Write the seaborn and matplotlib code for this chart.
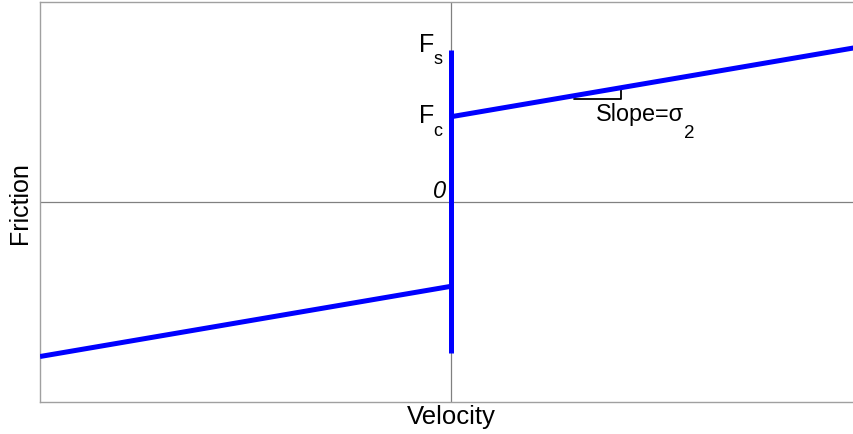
import numpy as np
import pandas as pd
import matplotlib
matplotlib.use("Agg")
import matplotlib.pyplot as plt
import seaborn as sns

# Friction model parameters (normalised units)
F_s = 0.76        # static friction level
F_c = 0.425       # Coulomb friction level
sigma_2 = 0.352   # viscous slope
v_min, v_max = -1.0, 0.98
f_min, f_max = -1.005, 1.0

# Friction-velocity characteristic as three segments
segment = ["neg", "neg", "stick", "stick", "pos", "pos"]
velocity = [v_min, 0.0, 0.0, 0.0, 0.0, v_max]
friction = [-F_c + sigma_2 * v_min, -F_c, -F_s, F_s, F_c, F_c + sigma_2 * v_max]

df = pd.DataFrame({"segment": segment, "velocity": velocity, "friction": friction})

sns.set_theme(style="white")
plt.rcParams["font.family"] = ["Liberation Sans", "DejaVu Sans"]
plt.rcParams["text.color"] = "black"
plt.rcParams["axes.labelcolor"] = "black"

W, H = 854, 435
L, R, T, B = 40, 854, 3, 403
fig = plt.figure(figsize=(W / 100, H / 100), dpi=100)
ax = fig.add_axes([L / W, (H - B) / H, (R - L) / W, (B - T) / H])


def px(x, y):
    """Pixel position inside the figure -> data coordinates."""
    return (v_min + (x - L) / (R - L) * (v_max - v_min),
            f_max - (y - T) / (B - T) * (f_max - f_min))


# zero axes
ax.axhline(0, color="#808080", lw=0.9, zorder=1)
ax.axvline(0, color="#808080", lw=0.9, zorder=1)

sns.lineplot(data=df, x="velocity", y="friction", units="segment",
             estimator=None, sort=False, color="#0000ff", lw=3.6,
             solid_capstyle="butt", ax=ax, zorder=3)

ax.set_xlim(v_min, v_max)
ax.set_ylim(f_min, f_max)
ax.set_xticks([])
ax.set_yticks([])
ax.set_xlabel("Velocity", fontsize=18.5, labelpad=2)
ax.xaxis.set_label_coords((451 - L) / (R - L), -0.005, transform=ax.transAxes)
ax.xaxis.label.set_va("top")
ax.set_ylabel("Friction", fontsize=18, labelpad=6)

for side in ["left", "top", "bottom"]:
    ax.spines[side].set_color("#a0a0a0")
    ax.spines[side].set_linewidth(1.0)
ax.spines["right"].set_visible(False)

# level labels with subscripts
ax.text(*px(419, 52), "F", fontsize=18, ha="left", va="baseline")
ax.text(*px(434, 64), "s", fontsize=13, ha="left", va="baseline")
ax.text(*px(419, 123), "F", fontsize=18, ha="left", va="baseline")
ax.text(*px(433, 136), "c", fontsize=13, ha="left", va="baseline")
ax.text(*px(446, 198), "0", fontsize=17, style="italic", ha="right", va="baseline")

# slope marker
x0, x1 = 0.299, 0.414
y0 = F_c + sigma_2 * x0 - 0.015
ax.plot([x0, x1, x1], [y0, y0, F_c + sigma_2 * x1], color="black", lw=1.3, zorder=2)
ax.text(*px(596, 121), "Slope=σ", fontsize=16.8, ha="left", va="baseline")
ax.text(*px(684, 138), "2", fontsize=13.5, ha="left", va="baseline")

fig.savefig("out.png", dpi=100)
